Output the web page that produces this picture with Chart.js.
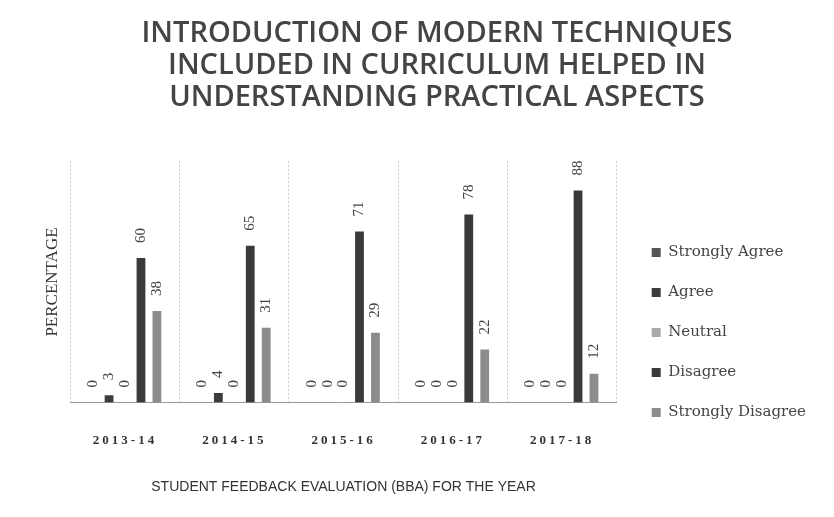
<!DOCTYPE html>
<html>
<head>
<meta charset="utf-8">
<script src="https://cdn.jsdelivr.net/npm/chart.js@4.4.1/dist/chart.umd.min.js"></script>
<style>
  html, body { margin: 0; padding: 0; background: #fff; }
  #wrap { width: 834px; height: 517px; }
</style>
</head>
<body>
<div id="wrap"><canvas id="chart"></canvas></div>
<script>
const years = ['2013-14', '2014-15', '2015-16', '2016-17', '2017-18'];
const stronglyAgree = [0, 0, 0, 0, 0];
const agree = [3, 4, 0, 0, 0];
const neutral = [0, 0, 0, 0, 0];
const disagree = [60, 65, 71, 78, 88];
const stronglyDisagree = [38, 31, 29, 22, 12];

const titleLines = [
  'INTRODUCTION OF MODERN TECHNIQUES',
  'INCLUDED IN CURRICULUM HELPED IN',
  'UNDERSTANDING PRACTICAL ASPECTS'
];

// rotated value labels above each bar
const barLabels = {
  id: 'barLabels',
  afterDatasetsDraw(chart) {
    const ctx = chart.ctx;
    ctx.save();
    ctx.font = '15px "Liberation Serif"';
    ctx.fillStyle = '#444';
    ctx.textAlign = 'left';
    ctx.textBaseline = 'middle';
    chart.data.datasets.forEach((ds, i) => {
      chart.getDatasetMeta(i).data.forEach((bar, j) => {
        ctx.save();
        ctx.translate(bar.x, bar.y - 15);
        ctx.rotate(-Math.PI / 2);
        ctx.fillText(String(ds.data[j]), 0, 0);
        ctx.restore();
      });
    });
    ctx.restore();
  }
};

// nudge title / legend like the original sheet, and space out the year labels
const tweaks = {
  id: 'tweaks',
  afterLayout(chart) {
    chart.titleBlock.left += 15;
    chart.titleBlock.right += 15;
    chart.legend.left += 10;
    chart.legend.right += 10;
    chart.legend.top += 81;
    chart.legend.bottom += 81;
    const x = chart.scales.x;
    if (!x._spaced) {
      const orig = x.drawLabels;
      x.drawLabels = function (area) {
        this.ctx.letterSpacing = '3px';
        orig.call(this, area);
        this.ctx.letterSpacing = '0px';
      };
      x._spaced = true;
    }
  }
};

const data = {
  labels: years,
  datasets: [
    { label: 'Strongly Agree', data: stronglyAgree, backgroundColor: '#555' },
    { label: 'Agree', data: agree, backgroundColor: '#3c3c3c' },
    { label: 'Neutral', data: neutral, backgroundColor: '#aaa' },
    { label: 'Disagree', data: disagree, backgroundColor: '#3a3a3a' },
    { label: 'Strongly Disagree', data: stronglyDisagree, backgroundColor: '#8c8c8c' }
  ]
};

new Chart(document.getElementById('chart'), {
  type: 'bar',
  data: data,
  options: {
    responsive: true,
    maintainAspectRatio: false,
    animation: false,
    datasets: { bar: { categoryPercentage: 0.73, barPercentage: 0.55 } },
    layout: { padding: { left: 38, right: 28, top: 7, bottom: 21 } },
    scales: {
      x: {
        grid: { display: true, drawTicks: false, color: '#999', lineWidth: 1 },
        border: { display: true, dash: [1, 3], color: '#999' },
        ticks: { color: '#333', padding: 30, font: { family: 'Liberation Serif', size: 13, weight: 'bold' } },
        title: {
          display: true,
          text: 'STUDENT FEEDBACK EVALUATION (BBA) FOR THE YEAR',
          color: '#333',
          font: { family: 'Liberation Sans', size: 14 },
          padding: { top: 1, bottom: 0 }
        }
      },
      y: {
        min: 0,
        max: 100,
        grid: { display: false },
        border: { display: false },
        ticks: { display: false },
        title: {
          display: true,
          text: 'PERCENTAGE',
          color: '#333',
          font: { family: 'Liberation Serif', size: 17 },
          padding: { top: 4, bottom: 0 }
        }
      }
    },
    plugins: {
      title: {
        display: true,
        text: titleLines,
        color: '#444',
        font: { family: 'Open Sans', size: 29, weight: '600', lineHeight: 1.12 },
        padding: { top: 10, bottom: 47 }
      },
      legend: {
        position: 'right',
        align: 'center',
        labels: {
          boxWidth: 9,
          boxHeight: 9,
          padding: 25,
          color: '#444',
          font: { family: 'DejaVu Serif', size: 15 }
        }
      },
      tooltip: { enabled: false }
    }
  },
  plugins: [barLabels, tweaks]
});
</script>
</body>
</html>
